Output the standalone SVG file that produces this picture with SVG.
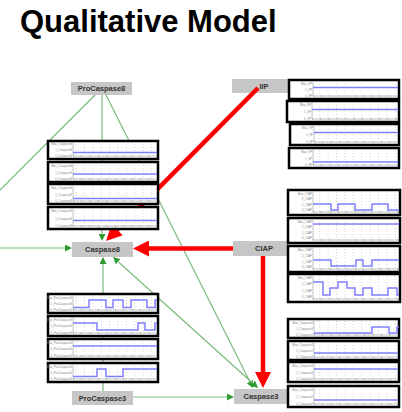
<svg xmlns="http://www.w3.org/2000/svg" width="402" height="412" viewBox="0 0 402 412">
<style>
.title{font-family:"Liberation Sans",Arial,sans-serif;font-weight:bold;font-size:31px;fill:#000}
.node rect{fill:#c6c6c6}
.node text{font-family:"Liberation Sans",Arial,sans-serif;font-weight:bold;font-size:7.5px;fill:#333;text-anchor:middle}
.g{stroke:#7cba7c;stroke-width:1.2;fill:none}
.r{stroke:#ff0000;stroke-width:4.5;fill:none}
.box{fill:#fff;stroke:#000;stroke-width:2.5}
.grid{fill:url(#dots)}
.ax{stroke:#999;stroke-width:0.6;fill:none}
.tk{stroke:#999;stroke-width:2;stroke-dasharray:0.6 7.8;fill:none}
.sig{stroke:#7f7fff;stroke-width:1.5;fill:none}
.lb{font-family:"Liberation Sans",Arial,sans-serif;font-size:3px;fill:#888;text-anchor:end}
</style>
<defs>
<pattern id="dots" width="8.4" height="3" patternUnits="userSpaceOnUse"><rect x="0" y="0" width="0.6" height="1" fill="#bbb"/></pattern>
<marker id="ga" viewBox="0 0 10 10" refX="0" refY="5" markerWidth="7" markerHeight="7" markerUnits="userSpaceOnUse" orient="auto-start-reverse"><path d="M0,0 L10,5 L0,10 z" fill="#2f9a2f"/></marker>
<marker id="ra" viewBox="0 0 10 10" refX="0" refY="5" markerWidth="16" markerHeight="16" markerUnits="userSpaceOnUse" orient="auto"><path d="M0,0 L10,5 L0,10 z" fill="#ff0000"/></marker>
</defs>
<rect width="402" height="412" fill="#fff"/>
<text class="title" x="20" y="32">Qualitative Model</text>

<g id="node-procaspase8" class="node"><rect x="71" y="82" width="61" height="13"/><text x="101.5" y="91.3">ProCaspase8</text></g>
<g id="node-caspase8" class="node"><rect x="72" y="242" width="61" height="15"/><text x="102.5" y="252.3">Caspase8</text></g>
<g id="node-iip" class="node"><rect x="232" y="79" width="58" height="14"/><text x="264" y="88.8">IIP</text></g>
<g id="node-ciap" class="node"><rect x="233" y="241" width="55" height="15"/><text x="264" y="251.3">CIAP</text></g>
<g id="node-caspase3" class="node"><rect x="234" y="389" width="53" height="15"/><text x="261" y="399.3">Caspase3</text></g>
<g id="node-procaspase3" class="node"><rect x="72" y="391" width="61" height="14"/><text x="102.5" y="400.8">ProCaspase3</text></g>

<g id="connectors">
<path class="g" d="M95,95 L0,190"/>
<path class="g" d="M102,95 L102,234" marker-end="url(#ga)"/>
<path class="g" d="M106,95 L249.9,381.7" marker-end="url(#ga)"/>
<path class="g" d="M0,248 L65,248" marker-end="url(#ga)"/>
<path class="g" d="M103,391 L103,264" marker-end="url(#ga)"/>
<path class="g" d="M118.2,261.7 L252.8,383.3" marker-start="url(#ga)" marker-end="url(#ga)"/>
<path class="g" d="M133,397 L227,397" marker-end="url(#ga)"/>
<path class="r" d="M258,88 L117.3,229.7" marker-end="url(#ra)"/>
<path class="r" d="M233,248.5 L149,248.5" marker-end="url(#ra)"/>
<path class="r" d="M263,256 L263,372" marker-end="url(#ra)"/>
</g>

<g id="plots-caspase8">
<rect class="box" x="48" y="141" width="110" height="18"/><rect class="grid" x="73" y="142.5" width="84" height="13"/><path class="ax" d="M73,142.5V156H157"/><path class="tk" d="M73,156H157"/><text class="lb" x="72" y="145">Max_Caspase8</text><text class="lb" x="72" y="151">1_Caspase8</text><text class="lb" x="72" y="157">0_Caspase8</text><path class="sig" d="M73,152.5H157"/>
<rect class="box" x="48" y="162" width="110" height="20"/><rect class="grid" x="73" y="163.5" width="84" height="15"/><path class="ax" d="M73,163.5V179H157"/><path class="tk" d="M73,179H157"/><text class="lb" x="72" y="167">Max_Caspase8</text><text class="lb" x="72" y="173.5">1_Caspase8</text><text class="lb" x="72" y="180">0_Caspase8</text><path class="sig" d="M73,174H157"/>
<rect class="box" x="48" y="184" width="110" height="20"/><rect class="grid" x="73" y="185.5" width="84" height="15"/><path class="ax" d="M73,185.5V201H157"/><path class="tk" d="M73,201H157"/><text class="lb" x="72" y="189">Max_Caspase8</text><text class="lb" x="72" y="195.5">1_Caspase8</text><text class="lb" x="72" y="202">0_Caspase8</text><path class="sig" d="M73,198.5H157"/>
<rect class="box" x="48" y="207" width="110" height="22"/><rect class="grid" x="73" y="208.5" width="84" height="17"/><path class="ax" d="M73,208.5V226H157"/><path class="tk" d="M73,226H157"/><text class="lb" x="72" y="212">Max_Caspase8</text><text class="lb" x="72" y="219.5">1_Caspase8</text><text class="lb" x="72" y="227">0_Caspase8</text><path class="sig" d="M73,220.5H157"/>
</g>

<g id="plots-iip">
<rect class="box" x="289" y="80" width="110" height="19"/><rect class="grid" x="313" y="81.5" width="85" height="14"/><path class="ax" d="M313,81.5V96H398"/><path class="tk" d="M313,96H398"/><text class="lb" x="312" y="85">Max_IIP</text><text class="lb" x="312" y="91">1_IIP</text><text class="lb" x="312" y="97">0_IIP</text><path class="sig" d="M313,87.5H398"/>
<rect class="box" x="287" y="101" width="112" height="21"/><rect class="grid" x="312" y="102.5" width="86" height="16"/><path class="ax" d="M312,102.5V119H398"/><path class="tk" d="M312,119H398"/><text class="lb" x="311" y="106">Max_IIP</text><text class="lb" x="311" y="113">1_IIP</text><text class="lb" x="311" y="120">0_IIP</text><path class="sig" d="M312,109.5H398"/>
<rect class="box" x="290" y="124" width="109" height="21"/><rect class="grid" x="314" y="125.5" width="84" height="16"/><path class="ax" d="M314,125.5V142H398"/><path class="tk" d="M314,142H398"/><text class="lb" x="313" y="129">Max_IIP</text><text class="lb" x="313" y="136">1_IIP</text><text class="lb" x="313" y="143">0_IIP</text><path class="sig" d="M314,132.5H398"/>
<rect class="box" x="289" y="148" width="110" height="20"/><rect class="grid" x="313" y="149.5" width="85" height="15"/><path class="ax" d="M313,149.5V165H398"/><path class="tk" d="M313,165H398"/><text class="lb" x="312" y="153">Max_IIP</text><text class="lb" x="312" y="159.5">1_IIP</text><text class="lb" x="312" y="166">0_IIP</text><path class="sig" d="M313,162H398"/>
</g>

<g id="plots-ciap">
<rect class="box" x="288" y="190" width="112" height="25"/><rect class="grid" x="313" y="191.5" width="86" height="20"/><path class="ax" d="M313,191.5V212H399"/><path class="tk" d="M313,212H399"/><text class="lb" x="312" y="194.5">Max_CIAP</text><text class="lb" x="312" y="200">2_CIAP</text><text class="lb" x="312" y="205.5">1_CIAP</text><text class="lb" x="312" y="211">0_CIAP</text><path class="sig" d="M313,204H331V210H338V204H355V210H372V204H388V210H399"/>
<rect class="box" x="288" y="218" width="112" height="25"/><rect class="grid" x="313" y="219.5" width="86" height="20"/><path class="ax" d="M313,219.5V240H399"/><path class="tk" d="M313,240H399"/><text class="lb" x="312" y="222.5">Max_CIAP</text><text class="lb" x="312" y="228">2_CIAP</text><text class="lb" x="312" y="233.5">1_CIAP</text><text class="lb" x="312" y="239">0_CIAP</text><path class="sig" d="M313,224H399"/>
<rect class="box" x="288" y="246" width="112" height="26"/><rect class="grid" x="313" y="247.5" width="86" height="21"/><path class="ax" d="M313,247.5V269H399"/><path class="tk" d="M313,269H399"/><text class="lb" x="312" y="250.5">Max_CIAP</text><text class="lb" x="312" y="256.5">2_CIAP</text><text class="lb" x="312" y="262.5">1_CIAP</text><text class="lb" x="312" y="268">0_CIAP</text><path class="sig" d="M313,260H331V266H356V260H363V266H372V260H399"/>
<rect class="box" x="288" y="274" width="112" height="28"/><rect class="grid" x="313" y="275.5" width="86" height="23"/><path class="ax" d="M313,275.5V299H399"/><path class="tk" d="M313,299H399"/><text class="lb" x="312" y="278.5">Max_CIAP</text><text class="lb" x="312" y="285">2_CIAP</text><text class="lb" x="312" y="291.5">1_CIAP</text><text class="lb" x="312" y="298">0_CIAP</text><path class="sig" d="M313,282H323V295H330V288H338V282H347V288H355V295H363V288H372V295H388V288H397V295H399"/>
</g>

<g id="plots-caspase3">
<rect class="box" x="288" y="319" width="111" height="19"/><rect class="grid" x="314" y="320.5" width="84" height="14"/><path class="ax" d="M314,320.5V335H398"/><path class="tk" d="M314,335H398"/><text class="lb" x="313" y="324">Max_Caspase3</text><text class="lb" x="313" y="330">1_Caspase3</text><text class="lb" x="313" y="336">0_Caspase3</text><path class="sig" d="M314,333H372V327H389V333H397V327H399"/>
<rect class="box" x="288" y="341" width="111" height="19"/><rect class="grid" x="314" y="342.5" width="84" height="14"/><path class="ax" d="M314,342.5V357H398"/><path class="tk" d="M314,357H398"/><text class="lb" x="313" y="346">Max_Caspase3</text><text class="lb" x="313" y="352">1_Caspase3</text><text class="lb" x="313" y="358">0_Caspase3</text><path class="sig" d="M314,353H398"/>
<rect class="box" x="288" y="362" width="111" height="20"/><rect class="grid" x="314" y="363.5" width="84" height="15"/><path class="ax" d="M314,363.5V379H398"/><path class="tk" d="M314,379H398"/><text class="lb" x="313" y="367">Max_Caspase3</text><text class="lb" x="313" y="373.5">1_Caspase3</text><text class="lb" x="313" y="380">0_Caspase3</text><path class="sig" d="M314,369H398"/>
<rect class="box" x="288" y="386" width="111" height="21"/><rect class="grid" x="314" y="387.5" width="84" height="16"/><path class="ax" d="M314,387.5V404H398"/><path class="tk" d="M314,404H398"/><text class="lb" x="313" y="391">Max_Caspase3</text><text class="lb" x="313" y="398">1_Caspase3</text><text class="lb" x="313" y="405">0_Caspase3</text><path class="sig" d="M314,400H398"/>
</g>

<g id="plots-procaspase3">
<rect class="box" x="48" y="294" width="110" height="19"/><rect class="grid" x="73" y="295.5" width="84" height="14"/><path class="ax" d="M73,295.5V310H157"/><path class="tk" d="M73,310H157"/><text class="lb" x="72" y="298.5">Max_ProCaspase3</text><text class="lb" x="72" y="304.5">1_ProCaspase3</text><text class="lb" x="72" y="311">0_ProCaspase3</text><path class="sig" d="M73,307.5H89V300H106V307.5H113V300H123V307.5H131V300H147V307.5H155V300H157"/>
<rect class="box" x="48" y="316" width="110" height="20"/><rect class="grid" x="73" y="317.5" width="84" height="15"/><path class="ax" d="M73,317.5V333H157"/><path class="tk" d="M73,333H157"/><text class="lb" x="72" y="320.5">Max_ProCaspase3</text><text class="lb" x="72" y="327">1_ProCaspase3</text><text class="lb" x="72" y="334">0_ProCaspase3</text><path class="sig" d="M73,323H97V330H138V323H145V330H155V323H157"/>
<rect class="box" x="48" y="339" width="110" height="20"/><rect class="grid" x="73" y="340.5" width="84" height="15"/><path class="ax" d="M73,340.5V356H157"/><path class="tk" d="M73,356H157"/><text class="lb" x="72" y="343.5">Max_ProCaspase3</text><text class="lb" x="72" y="350">1_ProCaspase3</text><text class="lb" x="72" y="357">0_ProCaspase3</text><path class="sig" d="M73,346H157"/>
<rect class="box" x="48" y="363" width="110" height="19"/><rect class="grid" x="73" y="364.5" width="84" height="14"/><path class="ax" d="M73,364.5V379H157"/><path class="tk" d="M73,379H157"/><text class="lb" x="72" y="367.5">Max_ProCaspase3</text><text class="lb" x="72" y="373.5">1_ProCaspase3</text><text class="lb" x="72" y="380">0_ProCaspase3</text><path class="sig" d="M73,376.5H97V369H106V376.5H123V369H157"/>
</g>
</svg>
